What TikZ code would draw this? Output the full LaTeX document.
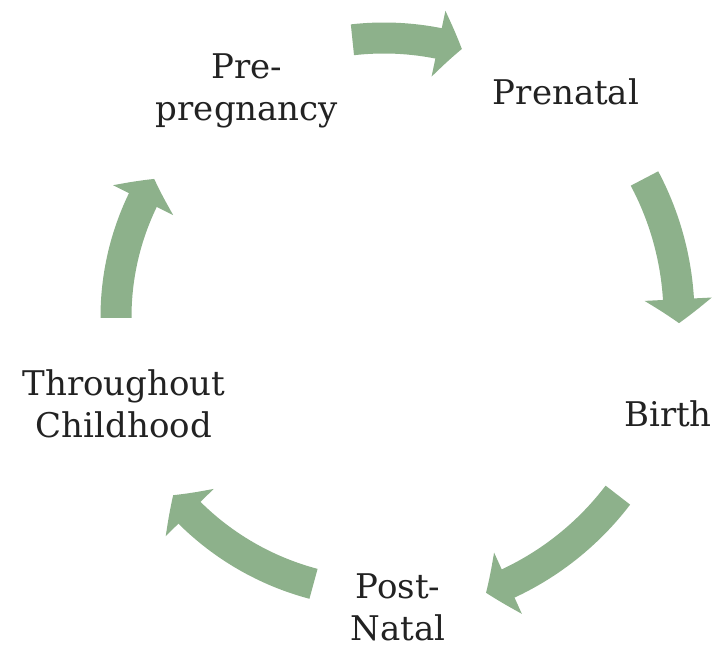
\documentclass[tikz,border=0pt]{standalone}
\usepackage{fontspec}
\setmainfont{DejaVu Serif}
\usepackage{xcolor}
\usetikzlibrary{arrows.meta, bending, calc}
\definecolor{sage}{RGB}{141,177,139}
\definecolor{inkgray}{RGB}{34,34,34}

\begin{document}
\begin{tikzpicture}[x=0.5pt, y=0.5pt,
  stage/.style={align=center, inner sep=0pt, text=inkgray, font=\fontsize{17}{21}\selectfont},
  cyclearrow/.style={draw=sage, line width=15.5pt, -{Triangle[length=12pt, width=33pt, bend]}}]
  \useasboundingbox (0,0) rectangle (717,646);

  % Cycle center
  \coordinate (ctr) at (384,329);

  % Stages
  \node[stage] (prepreg) at (247,555) {Pre-\\pregnancy};
  \node[stage] (prenatal) at (566,554) {Prenatal};
  \node[stage] (birth) at (668,232) {Birth};
  \node[stage] (postnatal) at (398,39) {Post-\\Natal};
  \node[stage] (childhood) at (124,242) {Throughout\\Childhood};

  % Arrows around the cycle
  \draw[cyclearrow] (ctr) ++(96.5:279) arc[start angle=96.5, end angle=73.8, radius=279];
  \draw[cyclearrow] (ctr) ++(28:295) arc[start angle=28, end angle=-1.2, radius=295];
  \draw[cyclearrow] (ctr) ++(-37.3:294) arc[start angle=-37.3, end angle=-69.7, radius=294];
  \draw[cyclearrow] (ctr) ++(-104.8:276) arc[start angle=-104.8, end angle=-139.8, radius=276];
  \draw[cyclearrow] (ctr) ++(180.2:268) arc[start angle=180.2, end angle=149, radius=268];
\end{tikzpicture}
\end{document}
